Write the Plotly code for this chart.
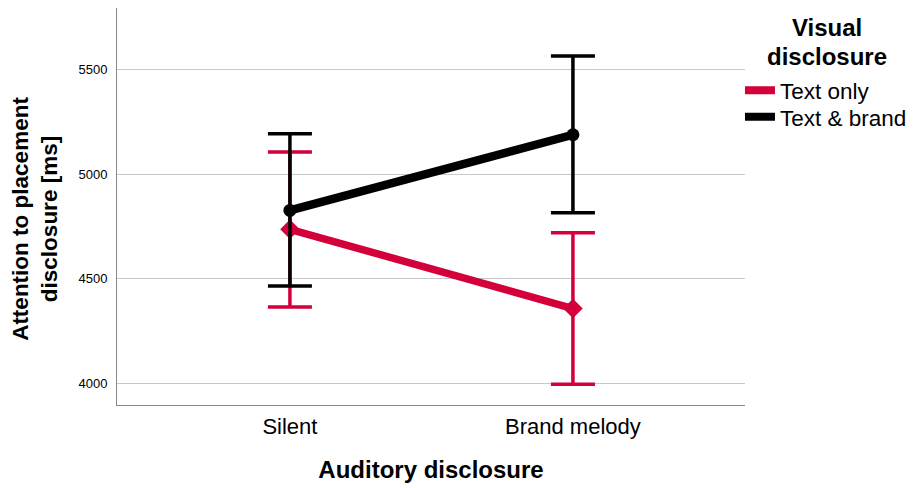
import plotly.graph_objects as go

categories = ["Silent", "Brand melody"]
series_names = ["Text only", "Text & brand"]
text_only_mean = [4736, 4357]
text_only_upper = [5105, 4720]
text_only_lower = [4364, 3995]
text_brand_mean = [4826, 5188]
text_brand_upper = [5193, 5565]
text_brand_lower = [4465, 4815]
y_ticks = [4000, 4500, 5000, 5500]
legend_title_lines = ["Visual", "disclosure"]

RED = "#D4003A"
BLACK = "#000000"
FONT = "Liberation Sans, Arial, sans-serif"

fig = go.Figure()

def add_series(name, legend_id, mean, upper, lower, color, lw, symbol, msize):
    fig.add_trace(go.Scatter(
        x=[0, 1], y=mean, mode="lines+markers", name=name, showlegend=False,
        line=dict(color=color, width=lw),
        marker=dict(symbol=symbol, size=msize, color=color),
        error_y=dict(type="data", symmetric=False,
                     array=[u - m for u, m in zip(upper, mean)],
                     arrayminus=[m - l for m, l in zip(mean, lower)],
                     color=color, thickness=3.5, width=22),
    ))
    fig.add_trace(go.Scatter(
        x=[None], y=[None], mode="lines", name=name, showlegend=True,
        legend=legend_id, line=dict(color=color, width=8),
    ))

add_series(series_names[0], "legend",
           text_only_mean, text_only_upper, text_only_lower, RED, 7.5, "diamond", 15)
add_series(series_names[1], "legend2",
           text_brand_mean, text_brand_upper, text_brand_lower, BLACK, 8.5, "circle", 13)

pad = "\u00a0" * 4
fig.update_layout(
    width=906, height=480,
    margin=dict(l=109, r=169, t=0, b=83),
    paper_bgcolor="white", plot_bgcolor="white",
    font=dict(family=FONT, color="#000"),
    xaxis=dict(
        range=[-0.611, 1.608], tickmode="array", tickvals=[0, 1], ticktext=categories,
        showgrid=False, zeroline=False, showline=True, linecolor="#888888", linewidth=1,
        ticks="", tickfont=dict(size=22), automargin=False, ticklabelstandoff=2,
        title=dict(text="<b>Auditory disclosure</b>", font=dict(size=24), standoff=22),
    ),
    yaxis=dict(
        range=[3896, 5794], tickvals=y_ticks, showgrid=True, gridcolor="#c8c8c8", gridwidth=1,
        zeroline=False, showline=True, linecolor="#888888", linewidth=1, ticks="",
        tickfont=dict(size=13), ticklabelstandoff=6, automargin=False,
        title=dict(text="<b>Attention to placement" + pad + "<br>disclosure [ms]" + pad + "</b>",
                   font=dict(size=22.5), standoff=22),
    ),
    legend=dict(
        x=0.992, xanchor="left", y=0.846, yanchor="top",
        font=dict(size=22.5), itemwidth=30, bgcolor="rgba(0,0,0,0)",
    ),
    legend2=dict(
        x=0.992, xanchor="left", y=0.779, yanchor="top",
        font=dict(size=22.5), itemwidth=30, bgcolor="rgba(0,0,0,0)",
    ),
    annotations=[
        dict(text="<b>" + legend_title_lines[0] + "</b>", xref="paper", yref="paper",
             x=1.1306, y=0.950, xanchor="center", yanchor="middle", showarrow=False,
             font=dict(size=24, family=FONT)),
        dict(text="<b>" + legend_title_lines[1] + "</b>", xref="paper", yref="paper",
             x=1.1306, y=0.877, xanchor="center", yanchor="middle", showarrow=False,
             font=dict(size=24, family=FONT)),
    ],
)

fig.write_html("out.html")
